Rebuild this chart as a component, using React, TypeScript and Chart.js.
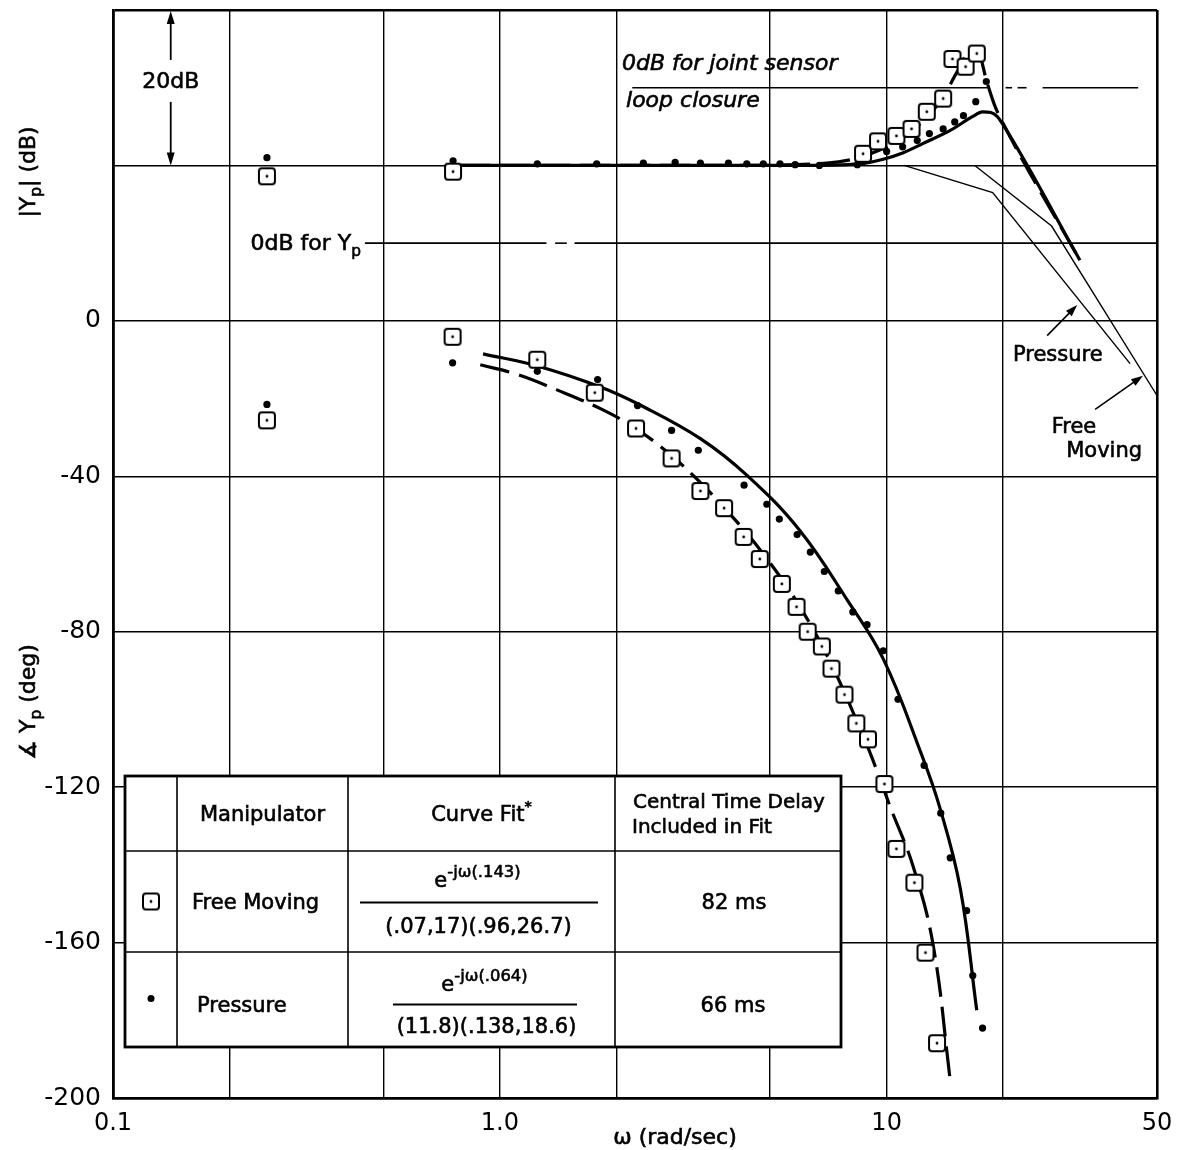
import React, { useEffect, useRef } from 'react';
import { Chart, registerables } from 'chart.js';

Chart.register(...registerables);

const FONT = '"DejaVu Sans", "Liberation Sans", sans-serif';

// ---------- axis ticks ----------
const xTickValues = [0.1, 0.2, 0.5, 1, 2, 5, 10, 20, 50];
const xTickLabels = ['0.1', '', '', '1.0', '', '', '10', '', '50'];
const yTickValues = [-200, -160, -120, -80, -40, 0, 40, 80];
const yTickLabels = ['-200', '-160', '-120', '-80', '-40', '0', '', ''];

// ---------- magnitude (dB re 0dB for Yp) ----------
const freeMagW = [0.25, 0.757, 8.69, 9.5, 10.6, 11.6, 12.7, 14.0, 14.8, 16.0, 17.1];
const freeMagDb = [8.6, 9.2, 11.5, 13.1, 13.8, 14.7, 16.9, 18.6, 23.7, 22.7, 24.4];

const pressMagW = [0.25, 0.757, 1.25, 1.78, 2.35, 2.84, 3.3, 3.9, 4.35, 4.8, 5.3, 5.8, 6.7, 8.4, 10.0, 11.0, 12.0, 12.9, 14.0, 15.0, 15.8, 17.0, 18.1];
const pressMagDb = [11, 10.6, 10.2, 10.2, 10.3, 10.4, 10.3, 10.3, 10.2, 10.2, 10.2, 10.1, 10.0, 10.1, 11.8, 12.4, 13.2, 14.1, 14.7, 15.6, 16.4, 18.2, 20.8];

const freeFitMagW = [0.79, 4, 7, 8.5, 9.5, 10.6, 11.6, 12.7, 14.0, 15.2, 16.4, 17.3, 18.1, 19.0, 20.2, 31.6];
const freeFitMagDb = [10, 10, 10.3, 11, 11.9, 13, 14.4, 16.2, 18.8, 22, 24.6, 24.4, 21, 17.8, 15.0, -2.2];

const pressFitMagW = [0.79, 6, 8.5, 9.8, 11, 12.4, 14.6, 16.7, 17.7, 18.6, 19.3, 19.9, 31.6];
const pressFitMagDb = [10, 10, 10.2, 10.8, 11.6, 12.8, 14.5, 16.3, 16.9, 16.8, 16.3, 15.4, -2.2];

// straight-line asymptotes
const pressAsymW = [11.1, 18.8, 42.6];
const pressAsymDb = [10, 6.5, -15.5];
const freeAsymW = [16.9, 26.7, 50];
const freeAsymDb = [10, 2.2, -19.6];

// ---------- phase (deg) ----------
const freePhaseW = [0.25, 0.755, 1.25, 1.76, 2.25, 2.78, 3.3, 3.8, 4.27, 4.7, 5.36, 5.85, 6.25, 6.8, 7.2, 7.78, 8.35, 8.95, 9.87, 10.6, 11.8, 12.6, 13.5];
const freePhaseDeg = [-25.6, -4.1, -10, -18.5, -27.7, -35.4, -43.8, -48.2, -55.6, -61.3, -67.7, -73.6, -80, -83.8, -89.5, -96.2, -103.6, -107.7, -119.2, -135.9, -144.6, -162.6, -185.9];

const pressPhaseW = [0.25, 0.755, 1.25, 1.79, 2.27, 2.78, 3.26, 4.28, 4.9, 5.28, 5.87, 6.35, 6.9, 7.5, 8.18, 8.9, 9.8, 10.7, 12.5, 13.8, 14.6, 16.1, 16.7, 17.7];
const pressPhaseDeg = [-21.5, -10.8, -13, -15.1, -21.8, -28.2, -33.3, -42.3, -47.2, -51, -55, -59.5, -64.5, -69.5, -74.9, -78.2, -84.9, -97.4, -114.4, -126.7, -138.2, -151.8, -168.5, -182];

const pressFitPhaseW = [0.905, 1.25, 1.82, 2.3, 3.3, 4.37, 5.97, 7.93, 9.8, 12.3, 13.7, 15.5, 17.1];
const pressFitPhaseDeg = [-8.5, -11.6, -17.0, -21.6, -30.3, -39.9, -54.0, -72.0, -87.0, -111.5, -125.0, -146.0, -177.4];

const freeFitPhaseW = [0.89, 1.11, 1.4, 1.82, 2.22, 2.66, 3.2, 4.0, 4.8, 5.86, 7.14, 8.7, 9.6, 10.2, 11.7, 13.2, 14.6];
const freeFitPhaseDeg = [-11.3, -13.8, -17.7, -22.6, -27.4, -33.1, -40.3, -50.5, -60, -72.3, -87.7, -106.9, -117.7, -124.9, -140.3, -160.8, -195.4];

// 1 dB of magnitude = 2 grid units; 0 dB for Yp sits at +20 units
const magToAxis = (db: number) => 20 + 2 * db;
const pts = (w: number[], v: number[], f: (a: number) => number = (a) => a) =>
  w.map((x, i) => ({ x, y: f(v[i]) }));

// ---------- table layout ----------
const TABLE = { left: 125, right: 841, top: 776, bottom: 1047, cols: [177, 348, 615], rows: [851, 952] };

type Seg = { t: string; sub?: boolean; sup?: boolean };

function drawRich(
  ctx: CanvasRenderingContext2D,
  segs: Seg[],
  x: number,
  cy: number,
  size: number,
  align: 'left' | 'center' | 'right',
  italic = false,
  smallRatio = 0.7
) {
  const fnt = (s: number) => `${italic ? 'italic ' : ''}${s}px ${FONT}`;
  let w = 0;
  for (const s of segs) {
    ctx.font = fnt(s.sub || s.sup ? size * smallRatio : size);
    w += ctx.measureText(s.t).width;
  }
  let cx = align === 'left' ? x : align === 'center' ? x - w / 2 : x - w;
  const base = cy + size * 0.36;
  ctx.textAlign = 'left';
  ctx.textBaseline = 'alphabetic';
  ctx.lineWidth = 0.6;
  ctx.strokeStyle = '#000';
  for (const s of segs) {
    ctx.font = fnt(s.sub || s.sup ? size * smallRatio : size);
    const dy = s.sub ? size * 0.28 : s.sup ? -size * 0.5 : 0;
    ctx.fillText(s.t, cx, base + dy);
    ctx.strokeText(s.t, cx, base + dy);
    cx += ctx.measureText(s.t).width;
  }
}

function arrow(ctx: CanvasRenderingContext2D, x1: number, y1: number, x2: number, y2: number, head = 11, half = 4) {
  const a = Math.atan2(y2 - y1, x2 - x1);
  ctx.beginPath();
  ctx.moveTo(x1, y1);
  ctx.lineTo(x2 - Math.cos(a) * head * 0.6, y2 - Math.sin(a) * head * 0.6);
  ctx.stroke();
  ctx.beginPath();
  ctx.moveTo(x2, y2);
  ctx.lineTo(x2 - Math.cos(a) * head - Math.sin(a) * half, y2 - Math.sin(a) * head + Math.cos(a) * half);
  ctx.lineTo(x2 - Math.cos(a) * head + Math.sin(a) * half, y2 - Math.sin(a) * head - Math.cos(a) * half);
  ctx.closePath();
  ctx.fill();
}

function makeSquareSymbol(): HTMLCanvasElement {
  const c = document.createElement('canvas');
  c.width = 20;
  c.height = 20;
  const g = c.getContext('2d')!;
  g.fillStyle = '#fff';
  g.strokeStyle = '#000';
  g.lineWidth = 2;
  g.beginPath();
  (g as any).roundRect(2, 2, 16, 16, 3);
  g.fill();
  g.stroke();
  g.fillStyle = '#000';
  g.beginPath();
  g.arc(10, 10, 1.4, 0, Math.PI * 2);
  g.fill();
  return c;
}

export default function App() {
  const ref = useRef<HTMLCanvasElement>(null);

  useEffect(() => {
    document.body.style.margin = '0';
    const canvas = ref.current!;
    const sq = makeSquareSymbol();

    const refLines = {
      id: 'refLines',
      beforeDatasetsDraw(chart: any) {
        const { ctx, scales } = chart;
        const X = (v: number) => scales.x.getPixelForValue(v);
        const Y = (v: number) => scales.y.getPixelForValue(v);
        ctx.save();
        ctx.strokeStyle = '#000';
        ctx.lineWidth = 1.6;
        const yp = Y(magToAxis(0));
        const ypSegs = [[0.448, 1.32], [1.39, 1.49], [1.56, 50]];
        for (const [a, b] of ypSegs) {
          ctx.beginPath();
          ctx.moveTo(X(a), yp);
          ctx.lineTo(X(b), yp);
          ctx.stroke();
        }
        const yj = Y(magToAxis(20));
        const jSegs = [[2.2, 18.2], [20.3, 21.1], [21.8, 23.0], [25.3, 44.7]];
        for (const [a, b] of jSegs) {
          ctx.beginPath();
          ctx.moveTo(X(a), yj);
          ctx.lineTo(X(b), yj);
          ctx.stroke();
        }
        ctx.restore();
      },
      afterDatasetsDraw(chart: any) {
        const { ctx, scales } = chart;
        const X = (v: number) => scales.x.getPixelForValue(v);
        const Y = (v: number) => scales.y.getPixelForValue(v);
        ctx.save();
        ctx.fillStyle = '#000';
        ctx.strokeStyle = '#000';

        // 20 dB span arrow
        const ax = X(0.141);
        const yTop = Y(magToAxis(30));
        const yBot = Y(magToAxis(10));
        const yMid = Y(61.5);
        ctx.lineWidth = 1.8;
        arrow(ctx, ax, yMid - 22, ax, yTop + 1, 13, 4);
        ctx.lineWidth = 1.8;
        arrow(ctx, ax, yMid + 20, ax, yBot, 13, 4);
        drawRich(ctx, [{ t: '20dB' }], ax, yMid - 2, 22, 'center');

        drawRich(ctx, [{ t: '0dB for Y' }, { t: 'p', sub: true }], X(0.448) - 4, Y(magToAxis(0)) - 1, 22, 'right');

        drawRich(ctx, [{ t: '0dB for joint sensor' }], X(2.07), Y(66.5), 22, 'left', true);
        drawRich(ctx, [{ t: 'loop closure' }], X(2.12), Y(57.0), 22, 'left', true);

        drawRich(ctx, [{ t: 'Pressure' }], X(27.7), Y(-8.5), 21, 'center');
        ctx.lineWidth = 1.6;
        arrow(ctx, X(26.0), Y(-3.8), X(31.1), Y(4.1), 12, 4);
        drawRich(ctx, [{ t: 'Free' }], X(30.5), Y(-27.0), 21, 'center');
        drawRich(ctx, [{ t: 'Moving' }], X(36.5), Y(-33.2), 21, 'center');
        ctx.lineWidth = 1.6;
        arrow(ctx, X(34.6), Y(-22.8), X(46.0), Y(-14.1), 12, 4);

        // ---------- table ----------
        const T = TABLE;
        ctx.fillStyle = '#fff';
        ctx.fillRect(T.left, T.top, T.right - T.left, T.bottom - T.top);
        ctx.strokeStyle = '#000';
        ctx.lineWidth = 1.6;
        for (const cxl of T.cols) {
          ctx.beginPath();
          ctx.moveTo(cxl, T.top);
          ctx.lineTo(cxl, T.bottom);
          ctx.stroke();
        }
        for (const ryl of T.rows) {
          ctx.beginPath();
          ctx.moveTo(T.left, ryl);
          ctx.lineTo(T.right, ryl);
          ctx.stroke();
        }
        ctx.lineWidth = 2.8;
        ctx.strokeRect(T.left, T.top, T.right - T.left, T.bottom - T.top);

        ctx.fillStyle = '#000';
        const c2 = (T.cols[0] + T.cols[1]) / 2;
        const c3 = (T.cols[1] + T.cols[2]) / 2;
        const c4 = (T.cols[2] + T.right) / 2;
        const r0 = (T.top + T.rows[0]) / 2;
        const r1 = (T.rows[0] + T.rows[1]) / 2;
        const r2 = (T.rows[1] + T.bottom) / 2;
        drawRich(ctx, [{ t: 'Manipulator' }], c2, r0, 21, 'center');
        drawRich(ctx, [{ t: 'Curve Fit' }, { t: '*', sup: true }], c3, r0, 21, 'center');
        drawRich(ctx, [{ t: 'Central Time Delay' }], c4 + 1, r0 - 13, 20, 'center');
        drawRich(ctx, [{ t: 'Included in Fit' }], T.cols[2] + 17, r0 + 12, 20, 'left');

        ctx.drawImage(sq, (T.left + T.cols[0]) / 2 - 10, r1 - 10);
        drawRich(ctx, [{ t: 'Free Moving' }], T.cols[0] + 15, r1, 21, 'left');
        drawRich(ctx, [{ t: 'e' }, { t: '-jω(.143)', sup: true }], c3 - 4, r1 - 22, 21, 'center', false, 0.78);
        ctx.lineWidth = 1.8;
        ctx.beginPath();
        ctx.moveTo(360, r1 + 1);
        ctx.lineTo(598, r1 + 1);
        ctx.stroke();
        drawRich(ctx, [{ t: '(.07,17)(.96,26.7)' }], c3 - 3, r1 + 24, 21, 'center');
        drawRich(ctx, [{ t: '82 ms' }], c4 + 6, r1, 21, 'center');

        ctx.beginPath();
        ctx.arc((T.left + T.cols[0]) / 2, r2 - 1, 3.5, 0, Math.PI * 2);
        ctx.fill();
        drawRich(ctx, [{ t: 'Pressure' }], T.cols[0] + 20, r2 + 5, 21, 'left');
        drawRich(ctx, [{ t: 'e' }, { t: '-jω(.064)', sup: true }], c3 + 3, r2 - 16, 21, 'center', false, 0.78);
        ctx.lineWidth = 1.8;
        ctx.beginPath();
        ctx.moveTo(393, r2 + 5);
        ctx.lineTo(577, r2 + 5);
        ctx.stroke();
        drawRich(ctx, [{ t: '(11.8)(.138,18.6)' }], c3 + 5, r2 + 26, 21, 'center');
        drawRich(ctx, [{ t: '66 ms' }], c4 + 5, r2 + 5, 21, 'center');

        ctx.restore();
      },
      afterDraw(chart: any) {
        const { ctx } = chart;
        ctx.save();
        ctx.fillStyle = '#000';
        ctx.save();
        ctx.translate(27, 172);
        ctx.rotate(-Math.PI / 2);
        drawRich(ctx, [{ t: '|Y' }, { t: 'p', sub: true }, { t: '| (dB)' }], 0, 0, 22, 'center');
        ctx.restore();
        ctx.save();
        ctx.translate(27, 702);
        ctx.rotate(-Math.PI / 2);
        drawRich(ctx, [{ t: '∡ Y' }, { t: 'p', sub: true }, { t: ' (deg)' }], 0, 0, 22, 'center');
        ctx.restore();
        drawRich(ctx, [{ t: 'ω (rad/sec)' }], 675, 1136, 22, 'center');
        ctx.restore();
      },
    };

    const lineBase = { showLine: true, pointRadius: 0, pointHoverRadius: 0, borderColor: '#000', backgroundColor: '#000', fill: false };

    const chart = new Chart(canvas, {
      type: 'scatter',
      data: {
        datasets: [
          {
            label: 'Free Moving',
            data: [...pts(freeMagW, freeMagDb, magToAxis), ...pts(freePhaseW, freePhaseDeg)],
            showLine: false,
            pointStyle: sq as any,
            pointRadius: 9,
            pointHoverRadius: 9,
            order: 0,
          },
          {
            label: 'Pressure',
            data: [...pts(pressMagW, pressMagDb, magToAxis), ...pts(pressPhaseW, pressPhaseDeg)],
            showLine: false,
            pointStyle: 'circle',
            pointRadius: 3.6,
            pointHoverRadius: 3.6,
            backgroundColor: '#000',
            borderColor: '#000',
            borderWidth: 0,
            order: 1,
          },
          { ...lineBase, label: 'Pressure fit |Yp|', data: pts(pressFitMagW, pressFitMagDb, magToAxis), borderWidth: 3.2, cubicInterpolationMode: 'monotone', order: 5 },
          { ...lineBase, label: 'Pressure fit phase', data: pts(pressFitPhaseW, pressFitPhaseDeg), borderWidth: 3.2, tension: 0.4, order: 5 },
          { ...lineBase, label: 'Free fit |Yp|', data: pts(freeFitMagW, freeFitMagDb, magToAxis), borderWidth: 3.2, borderDash: [30, 10], cubicInterpolationMode: 'monotone', order: 6 },
          { ...lineBase, label: 'Free fit phase', data: pts(freeFitPhaseW, freeFitPhaseDeg), borderWidth: 3.2, borderDash: [30, 10], tension: 0.4, order: 6 },
          { ...lineBase, label: 'Pressure asymptote', data: pts(pressAsymW, pressAsymDb, magToAxis), borderWidth: 1.4, tension: 0, order: 7 },
          { ...lineBase, label: 'Free asymptote', data: pts(freeAsymW, freeAsymDb, magToAxis), borderWidth: 1.4, tension: 0, order: 7 },
        ] as any,
      },
      options: {
        animation: false,
        responsive: false,
        devicePixelRatio: 1,
        events: [],
        layout: { padding: { top: 6, right: 28, left: 0, bottom: 0 } },
        plugins: { legend: { display: false }, tooltip: { enabled: false }, title: { display: false } },
        scales: {
          x: {
            type: 'logarithmic',
            min: 0.1,
            max: 50,
            afterBuildTicks: (s: any) => {
              s.ticks = xTickValues.map((v) => ({ value: v }));
            },
            afterFit: (s: any) => {
              s.height = 52;
              s.paddingLeft = 0;
              s.paddingRight = 0;
              s.paddingTop = 0;
              s.paddingBottom = 0;
            },
            ticks: {
              autoSkip: false,
              maxRotation: 0,
              padding: 11,
              color: '#000',
              font: { family: FONT, size: 24 },
              callback: (_v: any, i: number) => xTickLabels[i],
            },
            grid: {
              color: '#000',
              lineWidth: (c: any) => (c.tick && (c.tick.value === 50 || c.tick.value === 0.1) ? 2.6 : 1.4),
              drawTicks: false,
            },
            border: { display: true, color: '#000', width: 2.6 },
          },
          y: {
            type: 'linear',
            min: -200,
            max: 80,
            afterBuildTicks: (s: any) => {
              s.ticks = yTickValues.map((v) => ({ value: v }));
            },
            afterFit: (s: any) => {
              s.width = 113;
              s.paddingTop = 0;
              s.paddingBottom = 0;
              s.paddingLeft = 0;
              s.paddingRight = 0;
            },
            ticks: {
              autoSkip: false,
              padding: 12,
              color: '#000',
              font: { family: FONT, size: 25 },
              callback: (_v: any, i: number) => yTickLabels[i],
            },
            grid: {
              color: '#000',
              lineWidth: (c: any) => (c.tick && (c.tick.value === 80 || c.tick.value === -200) ? 2.6 : 1.4),
              drawTicks: false,
            },
            border: { display: true, color: '#000', width: 2.6 },
          },
        },
      } as any,
      plugins: [refLines],
    });

    return () => chart.destroy();
  }, []);

  return (
    <div style={{ width: 1185, height: 1150, background: '#fff' }}>
      <canvas ref={ref} width={1185} height={1150} style={{ display: 'block' }} />
    </div>
  );
}
